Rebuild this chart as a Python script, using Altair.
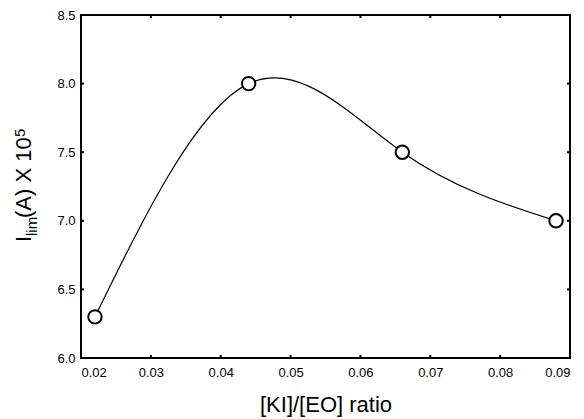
import altair as alt
import pandas as pd

# data
ratio = [0.022, 0.044, 0.066, 0.088]
ilim = [6.3, 8.0, 7.5, 7.0]
x_ticks = [0.02, 0.03, 0.04, 0.05, 0.06, 0.07, 0.08, 0.09]
y_ticks = [6.0, 6.5, 7.0, 7.5, 8.0, 8.5]
x_title = "[KI]/[EO] ratio"

W, H = 489, 343
FONT = "Liberation Sans"

df = pd.DataFrame({"ratio": ratio, "ilim": ilim})
xt = pd.DataFrame({"t": x_ticks[1:-1]})
yt = pd.DataFrame({"t": y_ticks[1:-1]})
one = pd.DataFrame({"a": [0]})

xs = alt.Scale(domain=[x_ticks[0], x_ticks[-1]], nice=False, zero=False)
ys = alt.Scale(domain=[y_ticks[0], y_ticks[-1]], nice=False, zero=False)

x_axis = alt.Axis(values=x_ticks, format=".2f", title=x_title, domain=False, ticks=False,
                  grid=False, labelFontSize=13, labelPadding=8, labelColor="black",
                  titleFontSize=22, titleFontWeight="normal", titleColor="black",
                  titlePadding=15, labelFont=FONT, titleFont=FONT)
y_axis = alt.Axis(values=y_ticks, format=".1f", title=None, domain=False, ticks=False,
                  grid=False, labelFontSize=13, labelPadding=6, labelColor="black",
                  labelFont=FONT)

line = alt.Chart(df).mark_line(interpolate="natural", color="black", strokeWidth=1.2).encode(
    x=alt.X("ratio:Q", scale=xs, axis=x_axis),
    y=alt.Y("ilim:Q", scale=ys, axis=y_axis),
)
points = alt.Chart(df).mark_point(shape="circle", filled=True, fill="white", stroke="black",
                                  strokeWidth=2, size=180, opacity=1).encode(
    x=alt.X("ratio:Q", scale=xs, axis=x_axis),
    y=alt.Y("ilim:Q", scale=ys, axis=y_axis),
)

tick_style = dict(color="black", strokeWidth=2)
bottom_ticks = alt.Chart(xt).mark_rule(**tick_style).encode(
    x=alt.X("t:Q", scale=xs, axis=x_axis), y=alt.value(H), y2=alt.value(H - 3))
top_ticks = alt.Chart(xt).mark_rule(**tick_style).encode(
    x=alt.X("t:Q", scale=xs, axis=x_axis), y=alt.value(0), y2=alt.value(3))
left_ticks = alt.Chart(yt).mark_rule(**tick_style).encode(
    y=alt.Y("t:Q", scale=ys, axis=y_axis), x=alt.value(0), x2=alt.value(3))
right_ticks = alt.Chart(yt).mark_rule(**tick_style).encode(
    y=alt.Y("t:Q", scale=ys, axis=y_axis), x=alt.value(W), x2=alt.value(W - 3))


def label(txt, size, x, y):
    return alt.Chart(one).mark_text(text=txt, fontSize=size, font=FONT, angle=270,
                                    align="left", baseline="alphabetic", color="black").encode(
        x=alt.value(x), y=alt.value(y))


ytitle = [
    label("I", 22, -50, 227),
    label("lim", 15, -44, 221),
    label("(A) X 10", 22, -50, 203),
    label("5", 15, -56, 122),
]

chart = alt.layer(line, points, bottom_ticks, top_ticks, left_ticks, right_ticks, *ytitle).properties(
    width=W, height=H,
    background="white",
    autosize=alt.AutoSizeParams(type="none"),
    padding={"left": 73, "top": 7, "right": 6, "bottom": 61},
).configure_view(stroke="black", strokeWidth=2)

chart.save("out.html", embed_options={"renderer": "svg", "actions": False})
